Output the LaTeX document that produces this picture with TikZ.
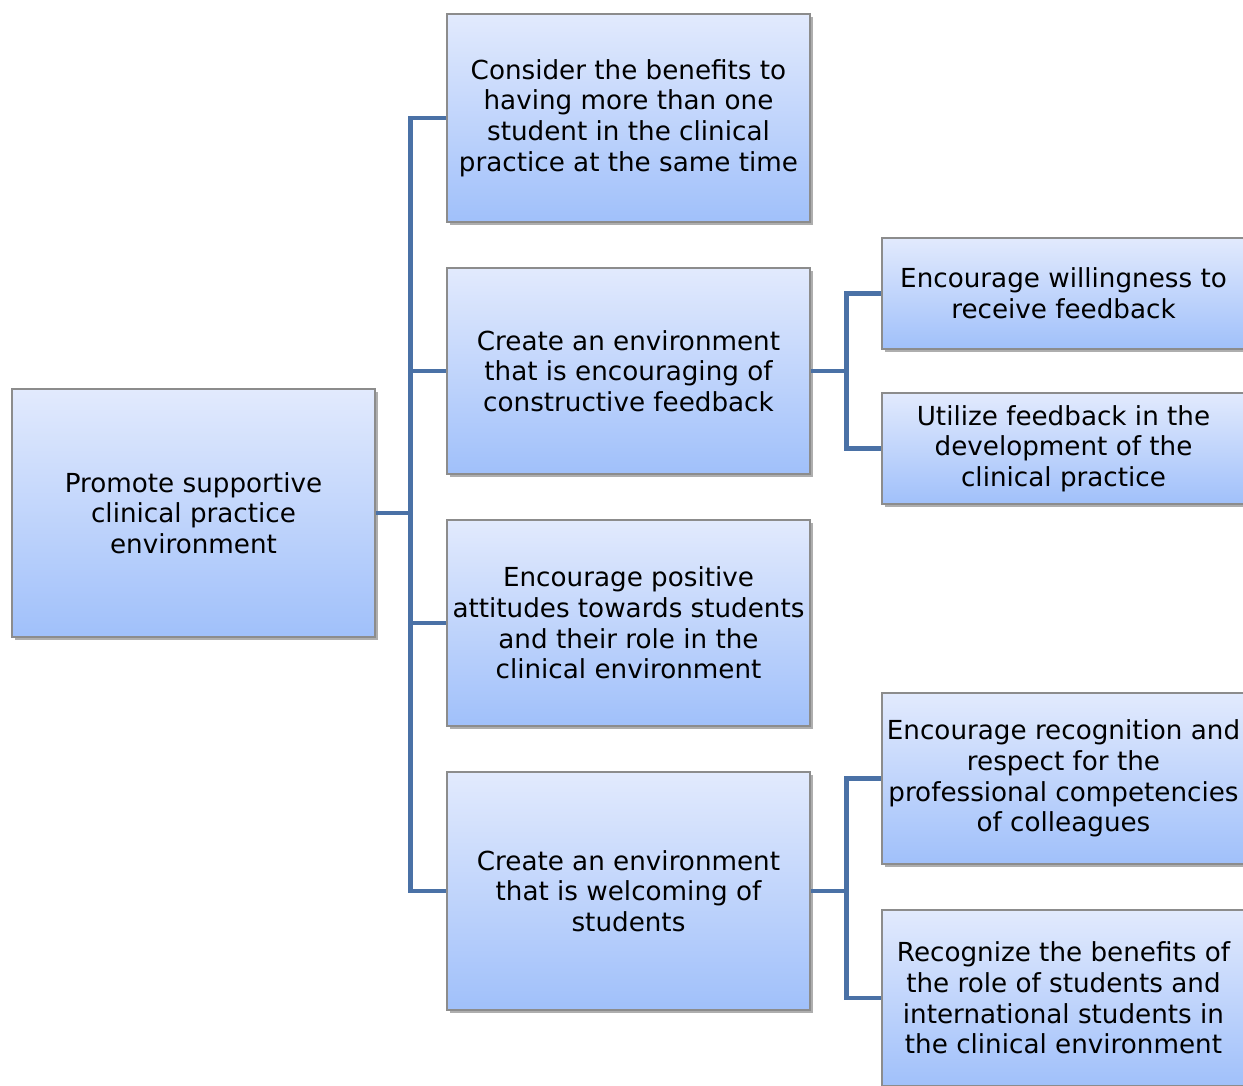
\documentclass[tikz,border=0pt]{standalone}
\usepackage{fontspec}
\setmainfont{DejaVu Sans}
\usetikzlibrary{shadows}
\definecolor{boxtop}{RGB}{226,234,253}
\definecolor{boxbot}{RGB}{160,192,250}
\definecolor{boxline}{RGB}{140,140,140}
\definecolor{conncol}{RGB}{74,113,166}
\tikzset{
  box/.style={draw=boxline, line width=0.6pt, top color=boxtop, bottom color=boxbot,
    minimum width=181.5pt, inner sep=0pt, align=center,
    font=\fontsize{13.1}{15.35}\selectfont,
    drop shadow={shadow xshift=1.3pt, shadow yshift=-1.6pt, opacity=0.45, fill=black!70}},
  conn/.style={draw=conncol, line width=2.3pt}
}
\begin{document}
\begin{tikzpicture}[x=0.5pt, y=-0.5pt]
\clip (0,0) rectangle (1243,1086);
\fill[white] (0,0) rectangle (1243,1086);

% root
\node[box, minimum height=124pt] (root) at (193.5,513)
  {Promote supportive\\clinical practice\\environment};

% first level
\node[box, minimum height=104pt] (b1) at (628.5,118)
  {Consider the benefits to\\having more than one\\student in the clinical\\practice at the same time};
\node[box, minimum height=103pt] (b2) at (628.5,371)
  {Create an environment\\that is encouraging of\\constructive feedback};
\node[box, minimum height=103pt] (b3) at (628.5,623)
  {Encourage positive\\attitudes towards students\\and their role in the\\clinical environment};
\node[box, minimum height=119pt] (b4) at (628.5,891)
  {Create an environment\\that is welcoming of\\students};

% second level
\node[box, minimum height=55.5pt] (c1) at (1063.5,293.5)
  {Encourage willingness to\\receive feedback};
\node[box, minimum height=55.5pt] (c2) at (1063.5,448.5)
  {Utilize feedback in the\\development of the\\clinical practice};
\node[box, minimum height=85.5pt] (c3) at (1063.5,778.5)
  {Encourage recognition and\\respect for the\\professional competencies\\of colleagues};
\node[box, minimum height=88pt] (c4) at (1063.5,998)
  {Recognize the benefits of\\the role of students and\\international students in\\the clinical environment};

% junctions
\coordinate (j1) at ([xshift=17.5pt]root.east);
\coordinate (j2) at ([xshift=18pt]b2.east);
\coordinate (j3) at ([xshift=18pt]b4.east);

% connectors
\draw[conn] (root.east) -- (j1);
\draw[conn] (j1) |- (b1.west);
\draw[conn] (j1) |- (b2.west);
\draw[conn] (j1) |- (b3.west);
\draw[conn] (j1) |- (b4.west);
\draw[conn] (b2.east) -- (j2);
\draw[conn] (j2) |- (c1.west);
\draw[conn] (j2) |- (c2.west);
\draw[conn] (b4.east) -- (j3);
\draw[conn] (j3) |- (c3.west);
\draw[conn] (j3) |- (c4.west);
\end{tikzpicture}
\end{document}
